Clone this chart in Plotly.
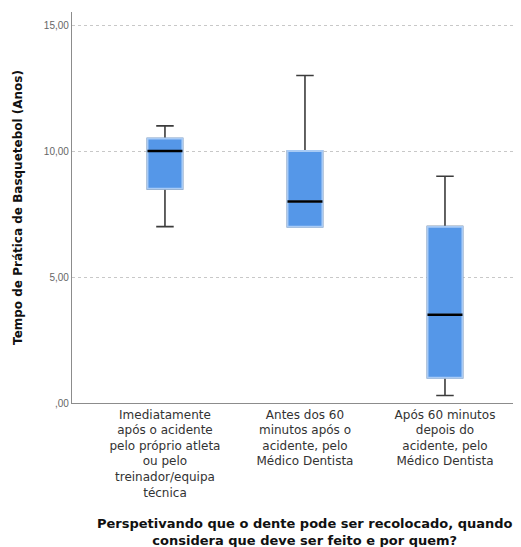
import plotly.graph_objects as go

categories = [
    "Imediatamente<br>após o acidente<br>pelo próprio atleta<br>ou pelo<br>treinador/equipa<br>técnica",
    "Antes dos 60<br>minutos após o<br>acidente, pelo<br>Médico Dentista",
    "Após 60 minutos<br>depois do<br>acidente, pelo<br>Médico Dentista",
]
lower_whisker = [7.0, 7.0, 0.3]
q1_values = [8.5, 7.0, 1.0]
median_values = [10.0, 8.0, 3.5]
q3_values = [10.5, 10.0, 7.0]
upper_whisker = [11.0, 13.0, 9.0]

y_tick_values = [0, 5, 10, 15]
y_tick_labels = [",00", "5,00", "10,00", "15,00"]

positions = list(range(len(categories)))
box_w = 0.25
FONT = "Liberation Sans, Arial, sans-serif"
WIDE = "DejaVu Sans, sans-serif"

fig = go.Figure()

# whiskers (dark)
fig.add_trace(go.Box(
    x=positions, q1=q1_values, median=median_values, q3=q3_values,
    lowerfence=lower_whisker, upperfence=upper_whisker,
    width=box_w, whiskerwidth=0.5,
    line=dict(color="#3c3c3c", width=1.6),
    fillcolor="rgba(0,0,0,0)", boxpoints=False, hoverinfo="skip",
    showlegend=False,
))
# box bodies (blue)
fig.add_trace(go.Box(
    x=positions, q1=q1_values, median=median_values, q3=q3_values,
    lowerfence=q1_values, upperfence=q3_values,
    width=box_w, whiskerwidth=0,
    line=dict(color="#a9cbf5", width=2),
    fillcolor="#5597e8", boxpoints=False, hoverinfo="skip",
    showlegend=False,
))
# medians (black)
mx, my = [], []
for p, m in zip(positions, median_values):
    mx += [p - box_w / 2, p + box_w / 2, None]
    my += [m, m, None]
fig.add_trace(go.Scatter(x=mx, y=my, mode="lines",
                         line=dict(color="#000000", width=2.5),
                         hoverinfo="skip", showlegend=False))

# page body has an 8px default margin; size the figure to fit the window
fig.update_layout(
    width=513, height=539,
    margin=dict(l=64, r=0, t=4, b=144, autoexpand=False),
    paper_bgcolor="white", plot_bgcolor="white",
    boxmode="overlay",
    font=dict(family=FONT, color="#333333"),
    xaxis=dict(
        range=[-0.664, 2.543],
        tickvals=positions, ticktext=categories,
        tickfont=dict(family=WIDE, size=12, color="#333333"),
        showgrid=False, zeroline=False,
        showline=True, linecolor="#8c8c8c", linewidth=1.2,
        ticks="", automargin=False,
    ),
    yaxis=dict(
        range=[0, 15.52],
        tickvals=y_tick_values, ticktext=y_tick_labels,
        tickfont=dict(size=10, color="#666666"),
        showgrid=True, gridcolor="#c8c8c8", griddash="dot", gridwidth=1,
        zeroline=False,
        showline=True, linecolor="#8c8c8c", linewidth=1.2,
        ticks="", automargin=False,
        title=dict(text="<b>Tempo de Prática de Basquetebol (Anos)</b>",
                   font=dict(family=WIDE, size=12, color="#111111"), standoff=18),
    ),
    annotations=[dict(
        text="<b>Perspetivando que o dente pode ser recolocado, quando<br>considera que deve ser feito e por quem?</b>",
        xref="x", x=1, yref="paper", y=-0.284, yanchor="top",
        showarrow=False, font=dict(family=WIDE, size=13, color="#111111"),
    )],
)

fig.write_html("out.html")
